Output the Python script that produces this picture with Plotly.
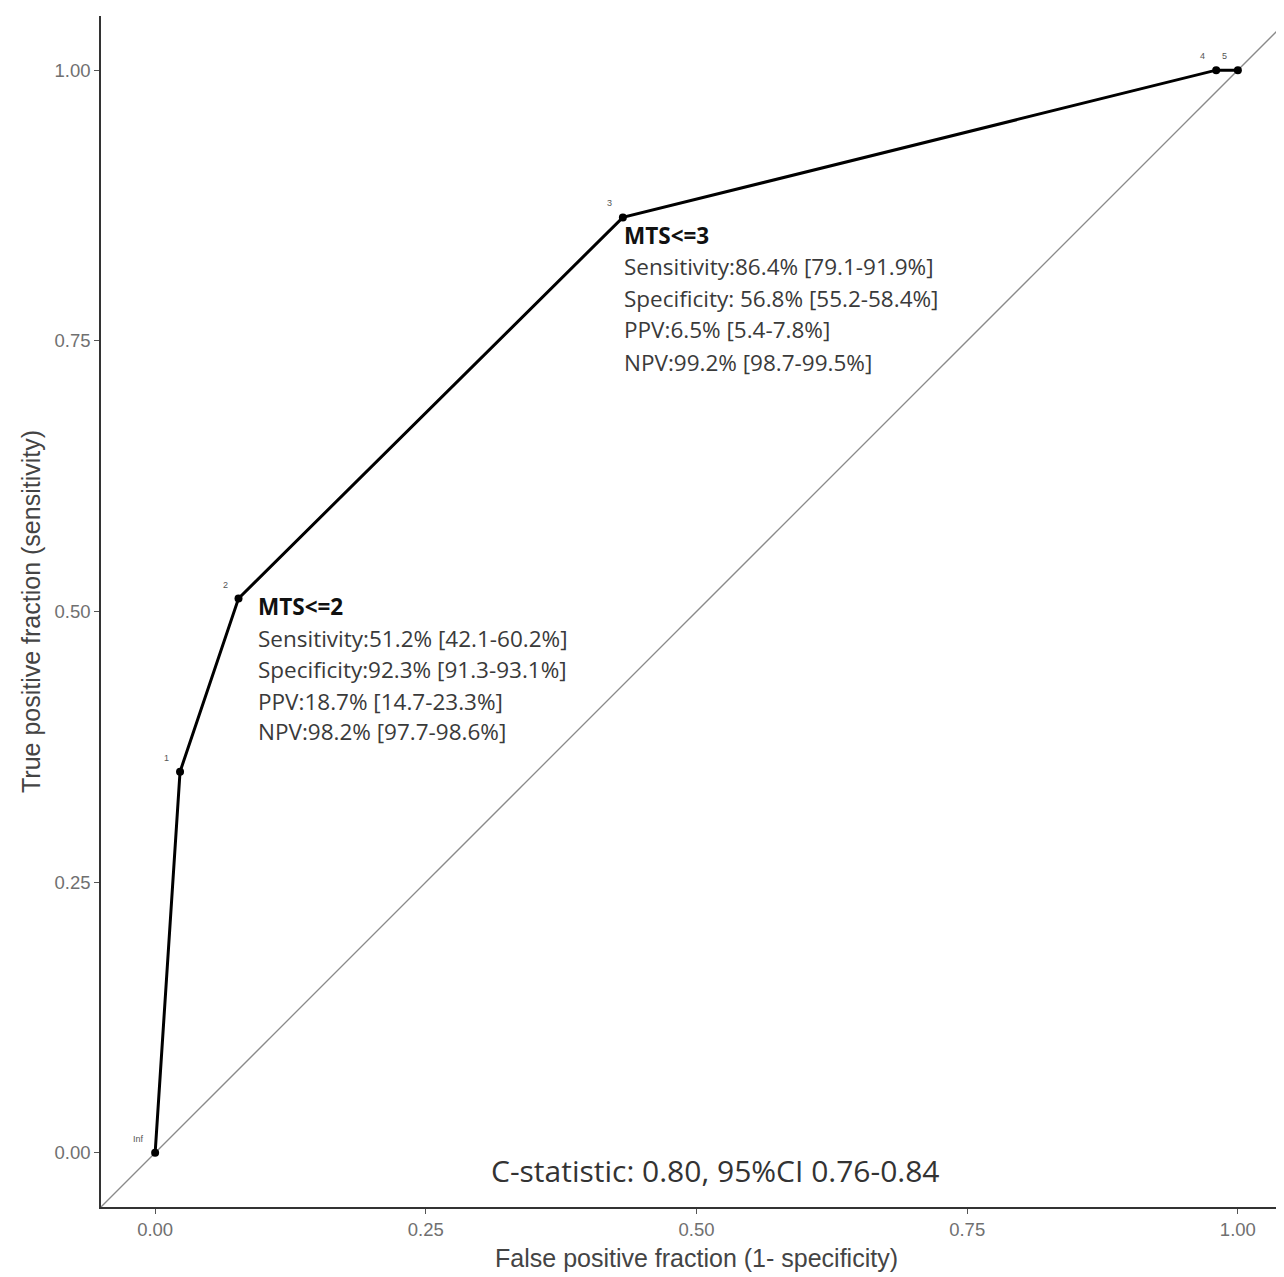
import plotly.graph_objects as go

# ROC points (false positive fraction, true positive fraction)
fpf = [0.0, 0.023, 0.077, 0.432, 0.980, 1.0]
tpf = [0.0, 0.352, 0.512, 0.864, 1.0, 1.0]
cut_labels = ["Inf", "1", "2", "3", "4", "5"]

x_ticks = [0.0, 0.25, 0.5, 0.75, 1.0]
x_tick_text = ["0.00", "0.25", "0.50", "0.75", "1.00"]
y_ticks = [0.0, 0.25, 0.5, 0.75, 1.0]
y_tick_text = ["0.00", "0.25", "0.50", "0.75", "1.00"]

block2 = ["<b>MTS<=2</b>", "Sensitivity:51.2% [42.1-60.2%]", "Specificity:92.3% [91.3-93.1%]",
          "PPV:18.7% [14.7-23.3%]", "NPV:98.2% [97.7-98.6%]"]
block3 = ["<b>MTS<=3</b>", "Sensitivity:86.4% [79.1-91.9%]", "Specificity: 56.8% [55.2-58.4%]",
          "PPV:6.5% [5.4-7.8%]", "NPV:99.2% [98.7-99.5%]"]
cstat = "C-statistic: 0.80, 95%CI 0.76-0.84"

fig = go.Figure()
# diagonal reference
fig.add_trace(go.Scatter(x=[-0.05, 1.1], y=[-0.05, 1.1], mode="lines",
                         line=dict(color="#8a8a8a", width=1.3), showlegend=False, hoverinfo="skip"))
fig.add_trace(go.Scatter(x=fpf, y=tpf, mode="lines+markers",
                         line=dict(color="black", width=3),
                         marker=dict(color="black", size=8), showlegend=False))

# cutoff labels
for xv, yv, t in zip(fpf, tpf, cut_labels):
    fig.add_annotation(x=xv, y=yv, text=t, showarrow=False, xanchor="right", yanchor="bottom",
                       xshift=-9, yshift=7, font=dict(size=9, color="#555", family="Liberation Sans"))

font_txt = "Open Sans"
y2 = [0.5046, 0.475, 0.446, 0.417, 0.389]
for t, yv in zip(block2, y2):
    fig.add_annotation(x=0.0933, y=yv, text=t, showarrow=False, xanchor="left", yanchor="middle",
                       font=dict(size=22.5, color="#3a3a3a" if "<b>" not in t else "#111", family=font_txt))
y3 = [0.8475, 0.819, 0.789, 0.760, 0.730]
for t, yv in zip(block3, y3):
    fig.add_annotation(x=0.431, y=yv, text=t, showarrow=False, xanchor="left", yanchor="middle",
                       font=dict(size=22.5, color="#3a3a3a" if "<b>" not in t else "#111", family=font_txt))

fig.add_annotation(x=0.518, y=-0.0166, text=cstat, showarrow=False, xanchor="center", yanchor="middle",
                   font=dict(size=30, color="#333", family=font_txt))

axis_common = dict(showgrid=False, zeroline=False, showline=True, linecolor="#333", linewidth=1.5,
                   ticks="outside", ticklen=5, tickcolor="#555", tickwidth=1,
                   tickfont=dict(size=18.5, color="#707070", family="Liberation Sans"))
fig.update_xaxes(range=[-0.05, 1.05], tickvals=x_ticks, ticktext=x_tick_text,
                 title=dict(text="False positive fraction (1- specificity)",
                            font=dict(size=25, color="#444", family="Liberation Sans"), standoff=11),
                 **axis_common)
fig.update_yaxes(range=[-0.05, 1.05], tickvals=y_ticks, ticktext=y_tick_text,
                 title=dict(text="True positive fraction (sensitivity)",
                            font=dict(size=25, color="#444", family="Liberation Sans"), standoff=7),
                 **axis_common)
fig.update_layout(width=1284, height=1277, plot_bgcolor="white", paper_bgcolor="white",
                  margin=dict(l=93, r=0, t=8, b=78))
fig.write_html("out.html")
